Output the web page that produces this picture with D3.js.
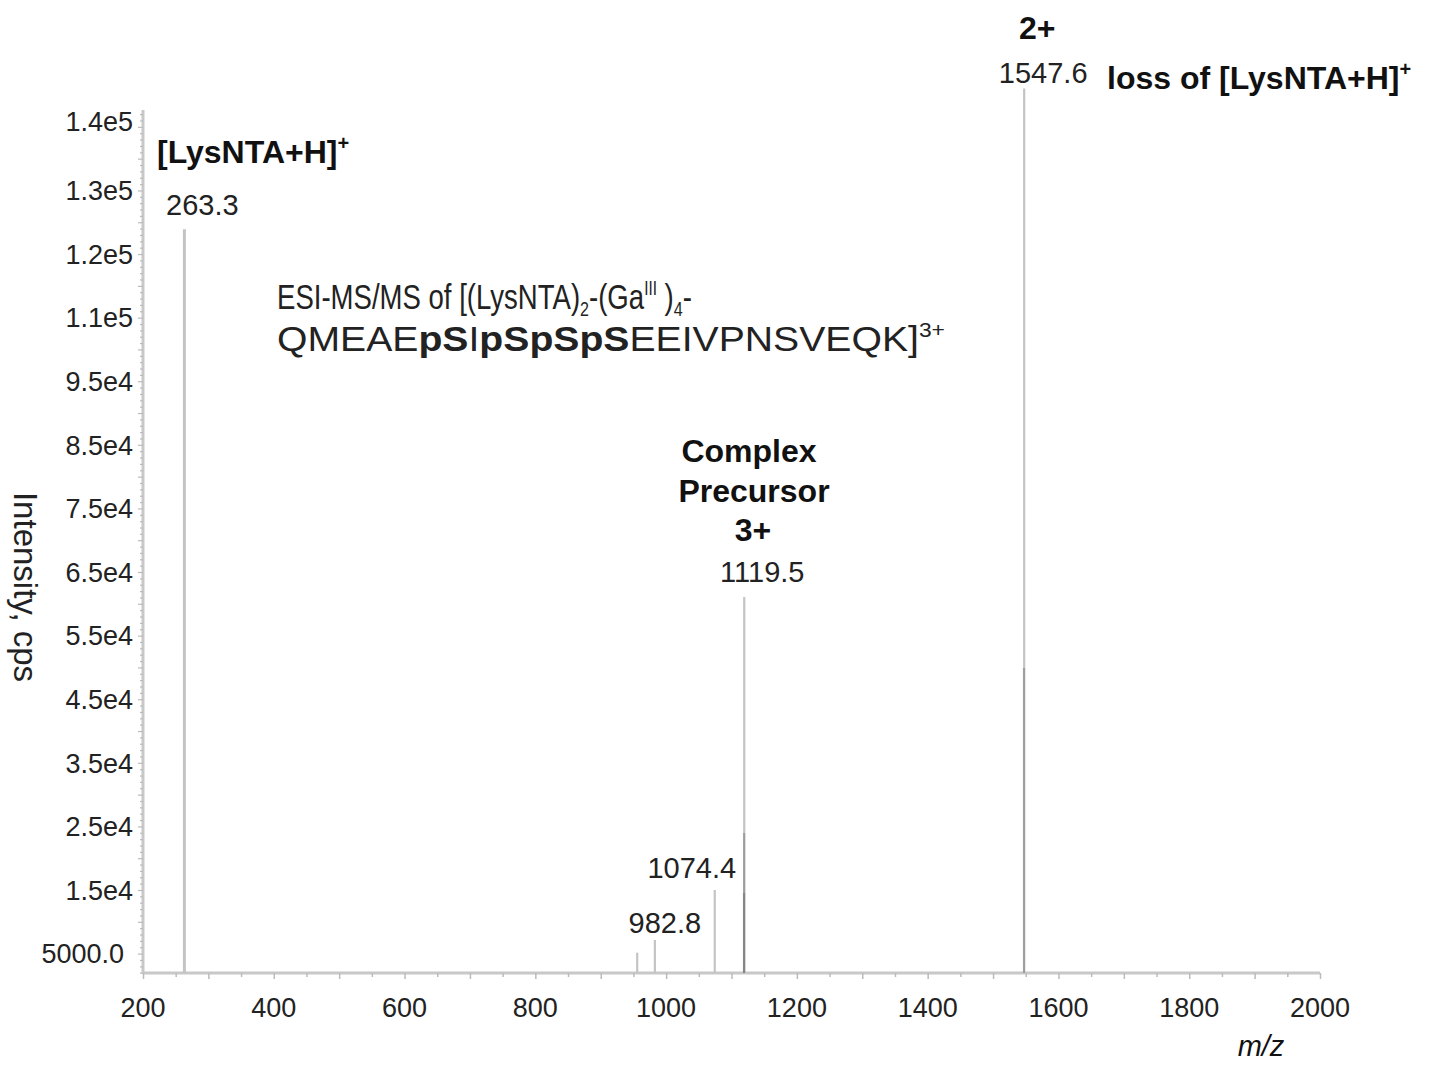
<!DOCTYPE html>
<html>
<head>
<meta charset="utf-8">
<script src="https://cdn.jsdelivr.net/npm/d3@7"></script>
<style>
  html, body { margin: 0; padding: 0; background: #fff; }
  svg { display: block; }
  text { font-family: "Liberation Sans", Arial, Helvetica, sans-serif; }
</style>
</head>
<body>
<div id="chart"></div>
<script>
// ---------------- data ----------------
const peakMz        = [263.3, 955.8, 982.8, 1074.4, 1119.5, 1547.6];
const peakIntensity = [118900, 5140, 7140, 15000, 61070, 141050];
const peakLabels    = ["263.3", "", "982.8", "1074.4", "1119.5", "1547.6"];

// overlapping (co-located) fragment peaks drawn on top of the main sticks
const overlapMz        = [1119.3, 1119.1, 1547.3];
const overlapIntensity = [23960, 14530, 49900];

const xTickValues = [200, 400, 600, 800, 1000, 1200, 1400, 1600, 1800, 2000];
const xTickLabels = ["200", "400", "600", "800", "1000", "1200", "1400", "1600", "1800", "2000"];
const yTickValues = [5000, 15000, 25000, 35000, 45000, 55000, 65000, 75000, 85000, 95000, 105000, 115000, 125000, 135000];
const yTickLabels = ["5000.0", "1.5e4", "2.5e4", "3.5e4", "4.5e4", "5.5e4", "6.5e4", "7.5e4", "8.5e4", "9.5e4", "1.1e5", "1.2e5", "1.3e5", "1.4e5"];

const xTitle = "m/z";
const yTitle = "Intensity, cps";

// ---------------- layout ----------------
const W = 1433, H = 1065;
const plot = { left: 143, right: 1320, top: 110, bottom: 973 };

const svg = d3.select("#chart").append("svg").attr("width", W).attr("height", H);

const x = d3.scaleLinear().domain([200, 2000]).range([plot.left, plot.right]);
const y = d3.scaleLinear().domain([1950, 137650]).range([plot.bottom, plot.top]);

const axisColor = "#c8c8c8";
const textColor = "#222";

// ---------- x axis ----------
const xMinor = d3.range(200, 2001, 50);
const xAxisG = svg.append("g").attr("transform", `translate(0,${plot.bottom})`);
xAxisG.call(d3.axisBottom(x).tickValues(xMinor).tickSize(5).tickFormat(() => ""));
xAxisG.select(".domain").attr("stroke", axisColor).attr("stroke-width", 3)
  .attr("d", `M${plot.left},0H${plot.right}`);
xAxisG.selectAll(".tick line").attr("stroke", "#bbb").attr("stroke-width", 1.5)
  .attr("y2", d => (d % 100 === 0 ? 6 : 4));
svg.append("g").selectAll("text").data(xTickValues).join("text")
  .attr("x", d => x(d)).attr("y", 1017)
  .attr("text-anchor", "middle").attr("font-size", 27).attr("fill", textColor)
  .text((d, i) => xTickLabels[i]);

// ---------- y axis ----------
const yMinor = d3.range(2000, 137001, 1000);
const yAxisG = svg.append("g").attr("transform", `translate(${plot.left},0)`);
yAxisG.call(d3.axisLeft(y).tickValues(yMinor).tickSize(3).tickFormat(() => ""));
yAxisG.select(".domain").attr("stroke", axisColor).attr("stroke-width", 3)
  .attr("d", `M0,${plot.top}V${plot.bottom}`);
yAxisG.selectAll(".tick line").attr("stroke", "#bbb").attr("stroke-width", 1.2)
  .attr("x2", d => (d % 5000 === 0 ? -5 : -3));
svg.append("g").selectAll("text").data(yTickValues).join("text")
  .attr("x", (d, i) => (i === 0 ? 124 : 133))
  .attr("y", (d, i) => y(d) - (i === yTickValues.length - 1 ? 6 : 0))
  .attr("dy", "0.36em")
  .attr("text-anchor", "end").attr("font-size", 27).attr("fill", textColor)
  .text((d, i) => yTickLabels[i]);

// axis titles
svg.append("text")
  .attr("transform", "translate(26,587) rotate(90)")
  .attr("text-anchor", "middle").attr("dy", "0.35em")
  .attr("font-size", 33).attr("fill", textColor)
  .text(yTitle);
svg.append("text")
  .attr("x", 1261).attr("y", 1056)
  .attr("text-anchor", "middle").attr("font-size", 29).attr("font-style", "italic")
  .attr("fill", "#111")
  .text(xTitle);

// ---------- peaks ----------
const peaks = peakMz.map((m, i) => ({ mz: m, v: peakIntensity[i], label: peakLabels[i] }));
svg.append("g").selectAll("line").data(peaks).join("line")
  .attr("x1", d => x(d.mz)).attr("x2", d => x(d.mz))
  .attr("y1", y(y.domain()[0])).attr("y2", d => y(d.v))
  .attr("stroke", "#c4c4c4").attr("stroke-width", (d, i) => (i === 0 ? 3 : 2.2));

const overlaps = overlapMz.map((m, i) => ({ mz: m, v: overlapIntensity[i] }));
svg.append("g").selectAll("line").data(overlaps).join("line")
  .attr("x1", d => x(d.mz)).attr("x2", d => x(d.mz))
  .attr("y1", y(y.domain()[0])).attr("y2", d => y(d.v))
  .attr("stroke", "#555").attr("stroke-opacity", 0.35).attr("stroke-width", 2.2);

// peak value labels (offsets relative to each stick)
const labelDx = [18, 0, 10, -23, 18, 19];
const labelDy = [-14, 0, -7, -12, -15, -5];
svg.append("g").selectAll("text").data(peaks.filter(d => d.label)).join("text")
  .attr("x", d => x(d.mz) + labelDx[peaks.indexOf(d)])
  .attr("y", d => y(d.v) + labelDy[peaks.indexOf(d)])
  .attr("text-anchor", "middle").attr("font-size", 29).attr("fill", textColor)
  .text(d => d.label);

// ---------- annotations ----------
function boldLabel(xp, yp, parts, anchor) {
  const t = svg.append("text").attr("x", xp).attr("y", yp)
    .attr("font-size", 32).attr("font-weight", "bold").attr("fill", "#111")
    .attr("text-anchor", anchor || "start");
  parts.forEach(p => {
    const s = t.append("tspan").text(p.t);
    if (p.sup) s.attr("font-size", 20).attr("dy", -13);
  });
  return t;
}
// [LysNTA+H]+ near 263.3
boldLabel(157, 163, [{ t: "[LysNTA+H]" }, { t: "+", sup: true }]);
// 2+ and loss label near 1547.6
boldLabel(1019, 39, [{ t: "2+" }]);
boldLabel(1107, 89, [{ t: "loss of [LysNTA+H]" }, { t: "+", sup: true }]);
// Complex precursor
boldLabel(749, 462, [{ t: "Complex" }], "middle");
boldLabel(754, 502, [{ t: "Precursor" }], "middle");
boldLabel(753, 541, [{ t: "3+" }], "middle");

// title annotation (two lines, each fitted to the width it spans in the figure)
const fs = 36;
function fitLine(g, targetW, baseline) {
  const t = g.select("text");
  const w = t.node().getComputedTextLength();
  g.attr("transform", `translate(277,${baseline}) scale(${targetW / w},1)`);
}
const g1 = svg.append("g");
const l1 = g1.append("text").attr("x", 0).attr("y", 0).attr("font-size", fs).attr("fill", textColor);
l1.append("tspan").text("ESI-MS/MS of [(LysNTA)");
l1.append("tspan").text("2").attr("font-size", 21).attr("dy", 7);
l1.append("tspan").text("-(Ga").attr("dy", -7);
l1.append("tspan").text("III").attr("font-size", 20).attr("dy", -14);
l1.append("tspan").text(" )").attr("dy", 14);
l1.append("tspan").text("4").attr("font-size", 21).attr("dy", 7);
l1.append("tspan").text("-").attr("dy", -7);
fitLine(g1, 415, 309);

const g2 = svg.append("g");
const l2 = g2.append("text").attr("x", 0).attr("y", 0).attr("font-size", fs).attr("fill", textColor);
l2.append("tspan").text("QMEAE");
l2.append("tspan").text("pS").attr("font-weight", "bold");
l2.append("tspan").text("I");
l2.append("tspan").text("pSpSpS").attr("font-weight", "bold");
l2.append("tspan").text("EEIVPNSVEQK]");
l2.append("tspan").text("3+").attr("font-size", 21).attr("dy", -14);
fitLine(g2, 668, 351);
</script>
</body>
</html>
